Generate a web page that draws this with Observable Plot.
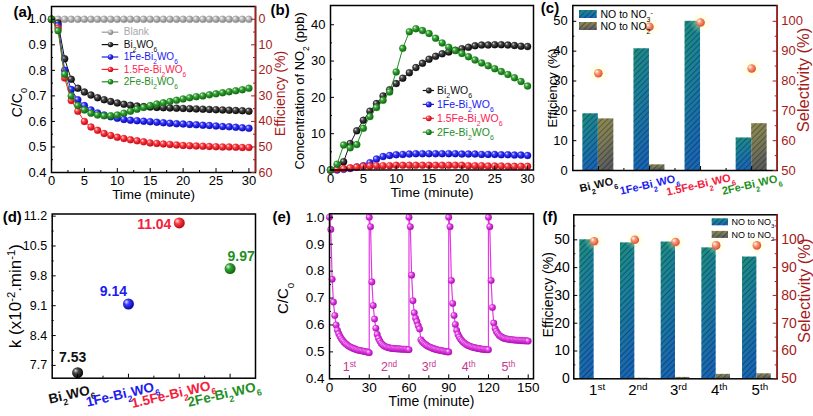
<!DOCTYPE html>
<html>
<head>
<meta charset="utf-8">
<script src="https://cdn.jsdelivr.net/npm/d3@7"></script>
<script src="https://cdn.jsdelivr.net/npm/@observablehq/plot@0.6"></script>
<style>
html, body { margin: 0; padding: 0; background: #ffffff; }
#root { position: relative; width: 813px; height: 416px; overflow: hidden; background: #ffffff; }
.panel { position: absolute; }
.panel svg { overflow: visible; display: block; max-width: none; }
</style>
</head>
<body>
<svg width="0" height="0" style="position:absolute;left:0;top:0" aria-hidden="true">
<defs>
  <radialGradient id="sph-gray" cx="0.42" cy="0.42" r="0.62" fx="0.3" fy="0.3">
    <stop offset="0" stop-color="#ffffff"/><stop offset="0.4" stop-color="#bdbdbd"/><stop offset="1" stop-color="#7a7a7a"/>
  </radialGradient>
  <radialGradient id="sph-black" cx="0.42" cy="0.42" r="0.62" fx="0.3" fy="0.3">
    <stop offset="0" stop-color="#e0e0e0"/><stop offset="0.35" stop-color="#4a4a4a"/><stop offset="1" stop-color="#000000"/>
  </radialGradient>
  <radialGradient id="sph-blue" cx="0.42" cy="0.42" r="0.62" fx="0.3" fy="0.3">
    <stop offset="0" stop-color="#e0e2ff"/><stop offset="0.38" stop-color="#3b3bff"/><stop offset="1" stop-color="#0000a0"/>
  </radialGradient>
  <radialGradient id="sph-red" cx="0.42" cy="0.42" r="0.62" fx="0.3" fy="0.3">
    <stop offset="0" stop-color="#ffe6ea"/><stop offset="0.38" stop-color="#ff4046"/><stop offset="1" stop-color="#b00010"/>
  </radialGradient>
  <radialGradient id="sph-green" cx="0.42" cy="0.42" r="0.62" fx="0.3" fy="0.3">
    <stop offset="0" stop-color="#dcf5dc"/><stop offset="0.38" stop-color="#35a535"/><stop offset="1" stop-color="#0b5a0b"/>
  </radialGradient>
  <radialGradient id="sph-mag" cx="0.42" cy="0.42" r="0.62" fx="0.3" fy="0.3">
    <stop offset="0" stop-color="#fff0ff"/><stop offset="0.38" stop-color="#ee50ee"/><stop offset="1" stop-color="#a000a8"/>
  </radialGradient>
  <radialGradient id="sph-orange" cx="0.42" cy="0.42" r="0.62" fx="0.3" fy="0.3">
    <stop offset="0" stop-color="#ffffff"/><stop offset="0.4" stop-color="#f59a7a"/><stop offset="1" stop-color="#e0482a"/>
  </radialGradient>
  <radialGradient id="halo" cx="0.5" cy="0.5" r="0.5">
    <stop offset="0" stop-color="#ffff90" stop-opacity="0.55"/><stop offset="1" stop-color="#ffffb0" stop-opacity="0"/>
  </radialGradient>
  <linearGradient id="gNO3" x1="0" y1="0" x2="0.3" y2="1">
    <stop offset="0" stop-color="#1c8e80"/><stop offset="0.45" stop-color="#1b7f9c"/><stop offset="1" stop-color="#1966b2"/>
  </linearGradient>
  <linearGradient id="gNO2" x1="0" y1="0" x2="0.3" y2="1">
    <stop offset="0" stop-color="#8e8c52"/><stop offset="0.5" stop-color="#7c7b58"/><stop offset="1" stop-color="#5e5e5e"/>
  </linearGradient>
  <pattern id="hatch" width="4" height="4" patternUnits="userSpaceOnUse" patternTransform="rotate(45)">
    <line x1="0.5" y1="0" x2="0.5" y2="4" stroke="rgba(0,0,0,0.32)" stroke-width="1"/>
  </pattern>
</defs>
</svg>
<div id="root"></div>
<script>
// ================= DATA =================
// (a) C/C0 versus time
const timeA = [0,1,2,3,4,5,6,7,8,9,10,11,12,13,14,15,16,17,18,19,20,21,22,23,24,25,26,27,28,29,30];
const blankA = [1.0,1.0,1.0,1.0,1.0,1.0,1.0,1.0,1.0,1.0,1.0,1.0,1.0,1.0,1.0,1.0,1.0,1.0,1.0,1.0,1.0,1.0,1.0,1.0,1.0,1.0,1.0,1.0,1.0,1.0,1.0];
const biA = [1.0,0.985,0.845,0.765,0.73,0.715,0.703,0.693,0.685,0.678,0.672,0.667,0.663,0.66,0.658,0.656,0.655,0.654,0.653,0.652,0.651,0.65,0.649,0.648,0.647,0.646,0.645,0.644,0.643,0.642,0.64];
const fe1A = [1.0,0.975,0.80,0.725,0.685,0.662,0.645,0.633,0.625,0.618,0.612,0.608,0.605,0.603,0.601,0.599,0.597,0.595,0.593,0.591,0.59,0.588,0.587,0.585,0.584,0.582,0.58,0.579,0.577,0.575,0.573];
const fe15A = [1.0,0.965,0.77,0.682,0.64,0.60,0.578,0.565,0.553,0.545,0.538,0.533,0.528,0.524,0.52,0.516,0.514,0.512,0.51,0.508,0.506,0.505,0.504,0.503,0.502,0.501,0.5,0.5,0.499,0.498,0.498];
const fe2A = [1.0,0.955,0.785,0.70,0.662,0.645,0.632,0.625,0.622,0.622,0.625,0.632,0.64,0.648,0.655,0.662,0.668,0.673,0.678,0.683,0.688,0.693,0.697,0.70,0.704,0.708,0.712,0.716,0.72,0.724,0.73];
const legendA = ["Blank", "Bi_{2}WO_{6}", "1Fe-Bi_{2}WO_{6}", "1.5Fe-Bi_{2}WO_{6}", "2Fe-Bi_{2}WO_{6}"];

// (b) NO2 concentration (ppb)
const timeB = [0,1,2,3,4,5,6,7,8,9,10,11,12,13,14,15,16,17,18,19,20,21,22,23,24,25,26,27,28,29,30];
const biB = [0,0.3,2.3,7.3,10.8,13.7,16.2,18.3,20.4,22.1,23.8,25.3,26.8,28.2,29.4,30.5,31.3,32.0,32.5,33.0,33.4,33.8,34.2,34.4,34.4,34.5,34.5,34.4,34.3,34.1,34.0];
const fe1B = [0,0,0.2,0.4,0.8,1.2,2.0,3.0,3.7,4.0,4.2,4.3,4.4,4.5,4.5,4.5,4.5,4.5,4.5,4.5,4.4,4.4,4.4,4.3,4.3,4.3,4.2,4.2,4.1,4.1,4.0];
const fe15B = [0,0.2,0.4,0.6,0.8,1.0,1.1,1.2,1.2,1.2,1.3,1.3,1.3,1.3,1.3,1.3,1.3,1.3,1.3,1.3,1.3,1.2,1.2,1.2,1.1,1.1,1.1,1.0,1.0,1.0,1.0];
const fe2B = [0,1.6,6.9,6.1,7.0,11.5,14.7,17.2,19.2,21.5,27.0,33.5,38.1,38.9,38.4,37.6,36.3,35.0,33.8,32.9,32.1,31.2,30.3,29.5,28.7,27.9,27.1,26.3,25.4,24.4,23.1];
const legendB = ["Bi_{2}WO_{6}", "1Fe-Bi_{2}WO_{6}", "1.5Fe-Bi_{2}WO_{6}", "2Fe-Bi_{2}WO_{6}"];

// (c) efficiency & selectivity per catalyst
const catsC = ["Bi_{2}WO_{6}", "1Fe-Bi_{2}WO_{6}", "1.5Fe-Bi_{2}WO_{6}", "2Fe-Bi_{2}WO_{6}"];
const no3C = [19.0, 40.8, 50.0, 10.9];
const no2C = [17.3, 1.9, 0, 15.7];
const selC = [82.6, 98.2, 99.6, 84.2];
const legendC = ["NO to NO_{3}^{-}", "NO to NO_{2}"];

// (d) rate constants
const catsD = ["Bi_{2}WO_{6}", "1Fe-Bi_{2}WO_{6}", "1.5Fe-Bi_{2}WO_{6}", "2Fe-Bi_{2}WO_{6}"];
const kD = [7.53, 9.14, 11.04, 9.97];

// (e) cycling test, relative minutes within a cycle
const relE = [0,1,2,3,4,5,6,7,8,9,10,11,12,13,14,15,16,17,18,19,20,21,22,23,24,25,26,27,28,29,30];
const cycle1E = [1.0,0.955,0.77,0.685,0.635,0.60,0.58,0.567,0.557,0.549,0.542,0.536,0.531,0.527,0.523,0.52,0.517,0.515,0.513,0.511,0.509,0.507,0.506,0.505,0.504,0.503,0.502,0.501,0.5,0.499,0.497];
const cycle2E = [1.0,0.965,0.76,0.672,0.622,0.588,0.565,0.55,0.54,0.532,0.527,0.523,0.52,0.518,0.516,0.515,0.514,0.513,0.513,0.512,0.512,0.511,0.511,0.511,0.51,0.51,0.51,0.51,0.509,0.509,0.508];
const cycle3E = [1.0,0.965,0.785,0.69,0.645,0.625,0.612,0.597,0.585,0.545,0.538,0.533,0.529,0.525,0.522,0.519,0.517,0.515,0.513,0.511,0.51,0.508,0.507,0.506,0.505,0.504,0.503,0.502,0.501,0.5,0.5];
const cycle4E = [1.0,0.965,0.765,0.68,0.635,0.602,0.58,0.565,0.555,0.547,0.541,0.536,0.532,0.528,0.525,0.523,0.521,0.519,0.517,0.516,0.515,0.514,0.513,0.512,0.511,0.51,0.51,0.509,0.509,0.508,0.508];
const cycle5E = [1.0,0.965,0.765,0.665,0.607,0.587,0.576,0.568,0.562,0.558,0.555,0.552,0.55,0.549,0.548,0.547,0.546,0.545,0.545,0.544,0.544,0.543,0.543,0.543,0.542,0.542,0.542,0.541,0.541,0.541,0.54];
const cycleLabelsE = ["1^{st}", "2^{nd}", "3^{rd}", "4^{th}", "5^{th}"];

// (f) efficiency & selectivity per cycle
const catsF = ["1^{st}", "2^{nd}", "3^{rd}", "4^{th}", "5^{th}"];
const no3F = [50.0, 48.9, 49.2, 47.1, 43.8];
const no2F = [0.1, 0.2, 0.5, 1.6, 1.8];
const selF = [99.5, 100.0, 99.2, 98.0, 98.0];
const legendF = ["NO to NO_{3}^{-}", "NO to NO_{2}"];

// ================= HELPERS =================
const root = document.getElementById("root");
const FONT = "'Liberation Sans', Arial, Helvetica, sans-serif";
const DR = "#a51c1c";
const SERIES_STYLE = [
  {c: "#111111", g: "black", tc: "#111111"},
  {c: "#1c1cf0", g: "blue", tc: "#1c1cf0"},
  {c: "#ff2020", g: "red", tc: "#ff2050"},
  {c: "#1f8f1f", g: "green", tc: "#1f8f1f"}
];
const CAT_COLORS = ["#111111", "#1c1cf0", "#f5203c", "#1f8f1f"];

function rich(svg) {
  svg.querySelectorAll("text").forEach(el => {
    const s = el.textContent;
    if (!/[_^]\{/.test(s)) return;
    while (el.firstChild) el.removeChild(el.firstChild);
    const re = /([_^])\{([^}]*)\}/g;
    let last = 0, m;
    const add = (txt, kind) => {
      const t = document.createElementNS("http://www.w3.org/2000/svg", "tspan");
      t.textContent = txt;
      if (kind) {
        t.setAttribute("baseline-shift", kind === "_" ? "sub" : "super");
        t.setAttribute("font-size", "66%");
      }
      el.appendChild(t);
    };
    while ((m = re.exec(s))) {
      if (m.index > last) add(s.slice(last, m.index));
      add(m[2], m[1]);
      last = re.lastIndex;
    }
    if (last < s.length) add(s.slice(last));
  });
}

function panel(left, top, w, h, M, opts, marks) {
  const svg = Plot.plot({
    width: w, height: h,
    marginLeft: M[0], marginRight: M[1], marginTop: M[2], marginBottom: M[3],
    style: {fontFamily: FONT, fontSize: "13px", background: "transparent", overflow: "visible", color: "#000"},
    color: {type: "identity"},
    ...opts,
    marks
  });
  rich(svg);
  const div = document.createElement("div");
  div.className = "panel";
  div.style.left = left + "px"; div.style.top = top + "px";
  div.style.width = w + "px"; div.style.height = h + "px";
  div.appendChild(svg);
  root.appendChild(div);
}

const ticksXIn = (vals, fh, len, stroke = "#000") => Plot.tickX(vals, {x: d => d, insetTop: fh - len, stroke, strokeWidth: 1});
const ticksYL = (vals, fw, len, stroke = "#000") => Plot.tickY(vals, {y: d => d, insetRight: fw - len, stroke, strokeWidth: 1});
const ticksYR = (vals, fw, len, stroke = DR) => Plot.tickY(vals, {y: d => d, insetLeft: fw - len, stroke, strokeWidth: 1});
const mapper = (X, Y, fw, fh) => ({px: p => X[0] + p / fw * (X[1] - X[0]), py: p => Y[1] - p / fh * (Y[1] - Y[0])});
const panelLabel = (txt, dx, dy) => Plot.text([txt], {frameAnchor: "top-left", text: d => d, dx, dy, textAnchor: "start", lineAnchor: "middle", fontWeight: "bold", fontSize: 15});
const title = (txt, frameAnchor, o) => Plot.text([txt], {frameAnchor, text: d => d, textAnchor: "middle", lineAnchor: "middle", ...o});

// ================= (a) =================
(function () {
  const W = 270, H = 205, M = [51, 15, 6, 33];
  const fw = W - M[0] - M[1], fh = H - M[2] - M[3];
  const X = [0, 31], Y = [0.4, 1.05];
  const {px, py} = mapper(X, Y, fw, fh);
  const series = [
    {vals: blankA, c: "#9a9a9a", g: "gray", tc: "#a8a8a8"},
    {vals: biA, ...SERIES_STYLE[0]},
    {vals: fe1A, ...SERIES_STYLE[1]},
    {vals: fe15A, ...SERIES_STYLE[2]},
    {vals: fe2A, ...SERIES_STYLE[3]}
  ];
  const yt = [0.4, 0.5, 0.6, 0.7, 0.8, 0.9, 1.0];
  const ym = [0.45, 0.55, 0.65, 0.75, 0.85, 0.95];
  const xt = [0, 5, 10, 15, 20, 25, 30];
  const xm = [2.5, 7.5, 12.5, 17.5, 22.5, 27.5];
  const marks = [];
  series.forEach(s => {
    marks.push(Plot.line(timeA, {x: d => d, y: (d, i) => s.vals[i], stroke: s.c, strokeWidth: 1}));
    marks.push(Plot.dot(timeA, {x: d => d, y: (d, i) => s.vals[i], r: 3.5, fill: `url(#sph-${s.g})`, stroke: s.c, strokeWidth: 0.3}));
  });
  legendA.forEach((lab, i) => {
    const s = series[i], yy = py(25.7 + i * 12.4);
    marks.push(Plot.ruleY([yy], {x1: () => px(50.7), x2: () => px(67.3), stroke: s.c, strokeWidth: 1.2}));
    marks.push(Plot.dot([yy], {x: () => px(59), y: d => d, r: 2.7, fill: `url(#sph-${s.g})`}));
    marks.push(Plot.text([lab], {x: () => px(72.3), y: () => yy, text: d => d, textAnchor: "start", lineAnchor: "middle", fill: s.tc, fontSize: 10}));
  });
  marks.push(
    Plot.frame({stroke: "#000", strokeWidth: 1.5}),
    Plot.ruleX([X[1]], {stroke: DR, strokeWidth: 1.6}),
    ticksXIn(xt, fh, 4), ticksXIn(xm, fh, 2),
    ticksYL(yt, fw, 4), ticksYL(ym, fw, 2),
    ticksYR(yt, fw, 4), ticksYR(ym, fw, 2),
    Plot.axisX({ticks: xt, tickSize: 0, tickPadding: 3.5, tickFormat: d => String(d), label: null, fontSize: 13}),
    Plot.axisY({ticks: yt, tickSize: 0, tickPadding: 5, tickFormat: d3.format(".1f"), label: null, fontSize: 13}),
    Plot.axisY({anchor: "right", ticks: yt, tickSize: 0, tickPadding: 3, tickFormat: d => String(Math.round((1 - d) * 100)), label: null, color: DR, fontSize: 12.5}),
    title("Time (minute)", "bottom", {dy: 22.5, fontSize: 13.5}),
    title("C/C_{0}", "left", {rotate: -90, dx: -34, dy: 13, fontSize: 14}),
    title("Efficiency (%)", "right", {rotate: -90, dx: 25, dy: 4, fill: DR, fontSize: 14}),
    panelLabel("(a)", -38, 6)
  );
  panel(0, 0, W, H, M, {x: {domain: X}, y: {domain: Y}}, marks);
})();

// ================= (b) =================
(function () {
  const W = 275, H = 205, M = [60, 12, 5, 35.5];
  const fw = W - M[0] - M[1], fh = H - M[2] - M[3];
  const X = [0, 30.9], Y = [0, 45.3];
  const {px, py} = mapper(X, Y, fw, fh);
  const series = [
    {vals: biB, ...SERIES_STYLE[0]},
    {vals: fe1B, ...SERIES_STYLE[1]},
    {vals: fe15B, ...SERIES_STYLE[2]},
    {vals: fe2B, ...SERIES_STYLE[3]}
  ];
  const xt = [0, 5, 10, 15, 20, 25, 30];
  const xm = [2.5, 7.5, 12.5, 17.5, 22.5, 27.5];
  const yt = [0, 10, 20, 30, 40];
  const ym = [5, 15, 25, 35];
  const marks = [];
  series.forEach(s => {
    marks.push(Plot.line(timeB, {x: d => d, y: (d, i) => s.vals[i], stroke: s.c, strokeWidth: 1}));
    marks.push(Plot.dot(timeB, {x: d => d, y: (d, i) => s.vals[i], r: 3.5, fill: `url(#sph-${s.g})`, stroke: s.c, strokeWidth: 0.3}));
  });
  legendB.forEach((lab, i) => {
    const s = series[i], yy = py(85 + i * 13.9);
    marks.push(Plot.ruleY([yy], {x1: () => px(92.7), x2: () => px(104), stroke: s.c, strokeWidth: 1.2}));
    marks.push(Plot.dot([yy], {x: () => px(98.3), y: d => d, r: 2.9, fill: `url(#sph-${s.g})`}));
    marks.push(Plot.text([lab], {x: () => px(106.5), y: () => yy, text: d => d, textAnchor: "start", lineAnchor: "middle", fill: s.tc, fontSize: 10.5}));
  });
  marks.push(
    Plot.frame({stroke: "#000", strokeWidth: 1.5}),
    ticksXIn(xt, fh, 4), ticksXIn(xm, fh, 2),
    ticksYL(yt, fw, 4), ticksYL(ym, fw, 2),
    Plot.axisX({ticks: xt, tickSize: 0, tickPadding: 4, tickFormat: d => String(d), label: null, fontSize: 13}),
    Plot.axisY({ticks: yt, tickSize: 0, tickPadding: 5, tickFormat: d => String(d), label: null, fontSize: 13}),
    title("Time (minute)", "bottom", {dy: 23, fontSize: 13.5}),
    title("Concentration of NO_{2} (ppb)", "left", {rotate: -90, dx: -31, dy: 3, fontSize: 13}),
    panelLabel("(b)", -60, 5)
  );
  panel(270, 0, W, H, M, {x: {domain: X}, y: {domain: Y}}, marks);
})();

// ================= (c) =================
(function () {
  const W = 268, H = 205, M = [27.3, 36.3, 5, 35];
  const fw = W - M[0] - M[1], fh = H - M[2] - M[3];
  const X = [0.5, 4.5], Y = [0, 55.3];
  const {px, py} = mapper(X, Y, fw, fh);
  const bw = 0.303;
  const yt = [0, 10, 20, 30, 40, 50];
  const ym = [5, 15, 25, 35, 45];
  const xt = [1, 2, 3, 4];
  const xm = [1.5, 2.5, 3.5];
  const pos = (d, i) => i + 1;
  const marks = [
    Plot.rect(catsC, {x1: (d, i) => i + 1 - bw, x2: pos, y1: 0, y2: (d, i) => no3C[i], fill: "url(#gNO3)"}),
    Plot.rect(catsC, {x1: (d, i) => i + 1 - bw, x2: pos, y1: 0, y2: (d, i) => no3C[i], fill: "url(#hatch)"}),
    Plot.rect(catsC, {x1: pos, x2: (d, i) => i + 1 + bw, y1: 0, y2: (d, i) => no2C[i], fill: "url(#gNO2)"}),
    Plot.rect(catsC, {x1: pos, x2: (d, i) => i + 1 + bw, y1: 0, y2: (d, i) => no2C[i], fill: "url(#hatch)"}),
    Plot.dot(catsC, {x: pos, y: (d, i) => selC[i] - 50, r: 11, fill: "url(#halo)"}),
    Plot.dot(catsC, {x: pos, y: (d, i) => selC[i] - 50, r: 4.3, fill: "url(#sph-orange)"}),
    Plot.frame({stroke: "#000", strokeWidth: 1.5}),
    Plot.ruleX([X[1]], {stroke: DR, strokeWidth: 1.6}),
    ticksXIn(xt, fh, 4), ticksXIn(xm, fh, 2),
    ticksYL(yt, fw, 4), ticksYL(ym, fw, 2),
    ticksYR(yt, fw, 4), ticksYR(ym, fw, 2),
    Plot.axisY({ticks: yt, tickSize: 0, tickPadding: 5, tickFormat: d => String(d), label: null, fontSize: 13}),
    Plot.axisY({anchor: "right", ticks: yt, tickSize: 0, tickPadding: 4, tickFormat: d => String(d + 50), label: null, color: DR, fontSize: 13}),
    Plot.text(catsC, {x: pos, frameAnchor: "bottom", text: d => d, rotate: -13, dy: 14, textAnchor: "middle", lineAnchor: "middle", fill: (d, i) => CAT_COLORS[i], fontWeight: "bold", fontSize: 11}),
    title("Efficiency (%)", "left", {rotate: -90, dx: -20, fontSize: 13}),
    title("Selectivity (%)", "right", {rotate: -90, dx: 27, dy: -8, fill: DR, fontSize: 16.5}),
    panelLabel("(c)", -32, 3)
  ];
  const fills = ["url(#gNO3)", "url(#gNO2)"];
  legendC.forEach((lab, i) => {
    const top = 5 + i * 12;
    marks.push(Plot.rect([lab], {x1: () => px(6.7), x2: () => px(24.4), y1: () => py(top + 8), y2: () => py(top), fill: fills[i]}));
    marks.push(Plot.rect([lab], {x1: () => px(6.7), x2: () => px(24.4), y1: () => py(top + 8), y2: () => py(top), fill: "url(#hatch)"}));
    marks.push(Plot.text([lab], {x: () => px(27.7), y: () => py(top + 4), text: d => d, textAnchor: "start", lineAnchor: "middle", fontSize: 10.5}));
  });
  panel(545, 0, W, H, M, {x: {domain: X, axis: null}, y: {domain: Y}}, marks);
})();

// ================= (d) =================
(function () {
  const W = 270, H = 211, M = [51.7, 15, 8.5, 38.3];
  const fw = W - M[0] - M[1], fh = H - M[2] - M[3];
  const X = [0.5, 4.5], Y = [7.4, 11.25];
  const yt = [7.7, 8.4, 9.1, 9.8, 10.5, 11.2];
  const ym = [8.05, 8.75, 9.45, 10.15, 10.85];
  const xt = [1, 2, 3, 4];
  const xm = [1.5, 2.5, 3.5];
  const pos = (d, i) => i + 1;
  const labelOffsets = [[-5, -15.5], [-15, -12.5], [-25, 1.5], [11, -12.5]];
  const marks = [
    Plot.dot(kD, {x: pos, y: d => d, r: 5.5, fill: (d, i) => `url(#sph-${SERIES_STYLE[i].g})`}),
    Plot.frame({stroke: "#000", strokeWidth: 1.5}),
    ticksXIn(xt, fh, 4), ticksXIn(xm, fh, 2),
    ticksYL(yt, fw, 4), ticksYL(ym, fw, 2),
    Plot.axisY({ticks: yt, tickSize: 0, tickPadding: 5, tickFormat: d3.format(".1f"), label: null, fontSize: 12.5}),
    Plot.text(catsD, {x: pos, frameAnchor: "bottom", text: d => d, rotate: -13, dy: 16, dx: -6, textAnchor: "middle", lineAnchor: "middle", fill: (d, i) => CAT_COLORS[i], fontWeight: "bold", fontSize: 13.5}),
    title("k (x10^{-2}.min^{-1})", "left", {rotate: -90, dx: -37, fontSize: 17}),
    panelLabel("(d)", -49.5, 3.5)
  ];
  kD.forEach((k, i) => {
    marks.push(Plot.text([k], {x: () => i + 1, y: d => d, text: d => d.toFixed(2), dx: labelOffsets[i][0], dy: labelOffsets[i][1], textAnchor: "middle", lineAnchor: "middle", fill: CAT_COLORS[i], fontWeight: "bold", fontSize: 14}));
  });
  panel(0, 205, W, H, M, {x: {domain: X, axis: null}, y: {domain: Y}}, marks);
})();

// ================= (e) =================
(function () {
  const W = 275, H = 211, M = [59, 12, 8.3, 37.7];
  const fw = W - M[0] - M[1], fh = H - M[2] - M[3];
  const X = [0, 154], Y = [0.4, 1.013];
  const cycles = [cycle1E, cycle2E, cycle3E, cycle4E, cycle5E];
  const table = cycles.flatMap((c, k) => relE.map((r, i) => ({t: 30 * k + r, v: c[i]})));
  const MAG = "#e23be2";
  const yt = [0.4, 0.5, 0.6, 0.7, 0.8, 0.9, 1.0];
  const ym = [0.45, 0.55, 0.65, 0.75, 0.85, 0.95];
  const xt = [0, 30, 60, 90, 120, 150];
  const xm = [15, 45, 75, 105, 135];
  const marks = [
    Plot.line(table, {x: "t", y: "v", stroke: MAG, strokeWidth: 1.2}),
    Plot.dot(table, {x: "t", y: "v", r: 3.3, fill: "url(#sph-mag)", stroke: "#c020c0", strokeWidth: 0.3}),
    Plot.frame({stroke: "#000", strokeWidth: 1.5}),
    ticksXIn(xt, fh, 4), ticksXIn(xm, fh, 3),
    ticksYL(yt, fw, 4), ticksYL(ym, fw, 2),
    Plot.axisX({ticks: xt, tickSize: 0, tickPadding: 3.5, tickFormat: d => String(d), label: null, fontSize: 13.5}),
    Plot.axisY({ticks: yt, tickSize: 0, tickPadding: 5, tickFormat: d3.format(".1f"), label: null, fontSize: 13.5}),
    Plot.text(cycleLabelsE, {x: (d, i) => 30 * i + 15, frameAnchor: "bottom", text: d => d, dy: -12, textAnchor: "middle", lineAnchor: "middle", fill: "#c8358f", fontSize: 12.5}),
    title("Time (minute)", "bottom", {dy: 23, fontSize: 14}),
    title("C/C_{0}", "left", {rotate: -90, dx: -46, dy: 2, fontSize: 15}),
    panelLabel("(e)", -57, 3.7)
  ];
  panel(270, 205, W, H, M, {x: {domain: X}, y: {domain: Y}}, marks);
})();

// ================= (f) =================
(function () {
  const W = 268, H = 211, M = [28.3, 36.3, 9.3, 37.7];
  const fw = W - M[0] - M[1], fh = H - M[2] - M[3];
  const X = [0.5, 5.5], Y = [0, 59];
  const {px, py} = mapper(X, Y, fw, fh);
  const bw = 0.352;
  const yt = [0, 10, 20, 30, 40, 50];
  const ym = [5, 15, 25, 35, 45, 55];
  const pos = (d, i) => i + 1;
  const marks = [
    Plot.rect(catsF, {x1: (d, i) => i + 1 - bw, x2: pos, y1: 0, y2: (d, i) => no3F[i], fill: "url(#gNO3)"}),
    Plot.rect(catsF, {x1: (d, i) => i + 1 - bw, x2: pos, y1: 0, y2: (d, i) => no3F[i], fill: "url(#hatch)"}),
    Plot.rect(catsF, {x1: pos, x2: (d, i) => i + 1 + bw, y1: 0, y2: (d, i) => no2F[i], fill: "url(#gNO2)"}),
    Plot.rect(catsF, {x1: pos, x2: (d, i) => i + 1 + bw, y1: 0, y2: (d, i) => no2F[i], fill: "url(#hatch)"}),
    Plot.dot(catsF, {x: pos, y: (d, i) => selF[i] - 50, r: 10, fill: "url(#halo)"}),
    Plot.dot(catsF, {x: pos, y: (d, i) => selF[i] - 50, r: 4.3, fill: "url(#sph-orange)"}),
    Plot.frame({stroke: "#000", strokeWidth: 1.5}),
    Plot.ruleX([X[1]], {stroke: DR, strokeWidth: 1.6}),
    ticksYL(yt, fw, 4), ticksYL(ym, fw, 2),
    ticksYR(yt, fw, 4), ticksYR(ym, fw, 2),
    Plot.axisY({ticks: yt, tickSize: 0, tickPadding: 4, tickFormat: d => String(d), label: null, fontSize: 14}),
    Plot.axisY({anchor: "right", ticks: yt, tickSize: 0, tickPadding: 4, tickFormat: d => String(d + 50), label: null, color: DR, fontSize: 14}),
    Plot.text(catsF, {x: pos, frameAnchor: "bottom", text: d => d, dy: 11, dx: 3, textAnchor: "middle", lineAnchor: "middle", fontSize: 15}),
    title("Efficiency (%)", "left", {rotate: -90, dx: -25, dy: -2, fontSize: 14}),
    title("Selectivity (%)", "right", {rotate: -90, dx: 28, dy: -6, fill: DR, fontSize: 16.5}),
    panelLabel("(f)", -31.3, 2.7)
  ];
  const fills = ["url(#gNO3)", "url(#gNO2)"];
  legendF.forEach((lab, i) => {
    const top = 4 + i * 12.6;
    marks.push(Plot.rect([lab], {x1: () => px(138.4), x2: () => px(154.7), y1: () => py(top + 7), y2: () => py(top), fill: fills[i]}));
    marks.push(Plot.rect([lab], {x1: () => px(138.4), x2: () => px(154.7), y1: () => py(top + 7), y2: () => py(top), fill: "url(#hatch)"}));
    marks.push(Plot.text([lab], {x: () => px(157.7), y: () => py(top + 3.5), text: d => d, textAnchor: "start", lineAnchor: "middle", fontSize: 9}));
  });
  panel(545, 205, W, H, M, {x: {domain: X, axis: null}, y: {domain: Y}}, marks);
})();
</script>
</body>
</html>
